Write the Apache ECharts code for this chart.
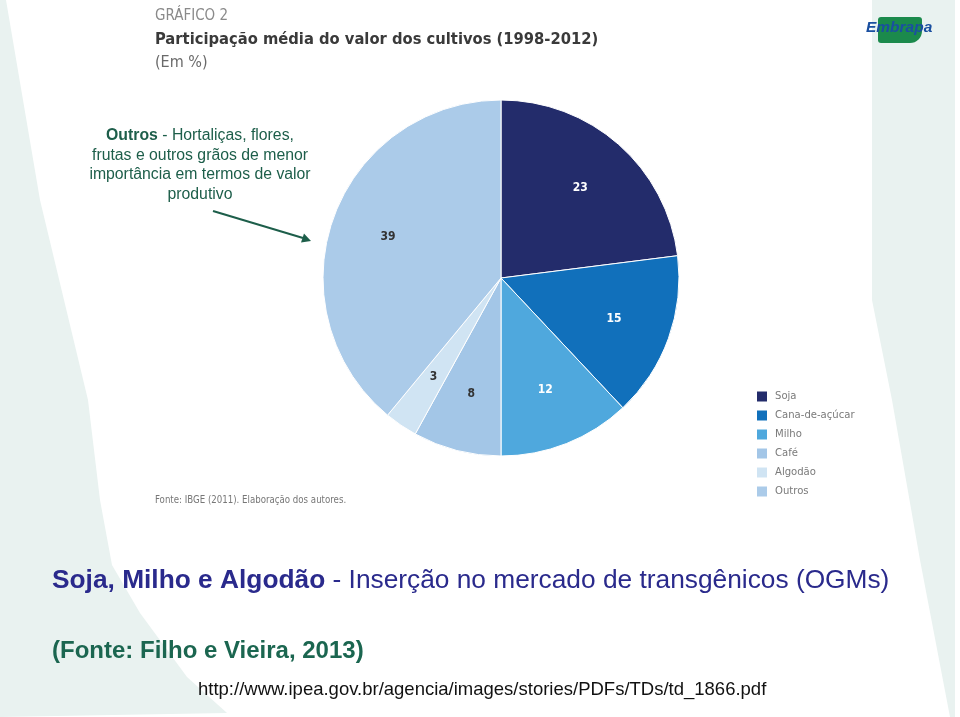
<!DOCTYPE html>
<html><head><meta charset="utf-8">
<script src="https://cdn.jsdelivr.net/npm/echarts@6/dist/echarts.min.js"></script>
<style>html,body{margin:0;padding:0;background:#fff}#c{width:960px;height:717px}</style>
</head><body><div id="c"></div>
<script>
const categories = ['Soja', 'Cana-de-açúcar', 'Milho', 'Café', 'Algodão', 'Outros'];
const values = [23, 15, 12, 8, 3, 39];
const sliceColors = ['#232c6b', '#1170bb', '#4fa8dd', '#a3c6e7', '#d0e4f3', '#abcbe9'];
const labelColors = ['#ffffff', '#ffffff', '#ffffff', '#333333', '#333333', '#333333'];

const NARROW = '"Liberation Sans Narrow","DejaVu Sans Condensed",sans-serif';
const ARIAL = '"Liberation Sans",Arial,sans-serif';
const mint = '#e9f2f0';
const green = '#1d5e4a';
const navy = '#2a2a8c';

const chart = echarts.init(document.getElementById('c'), null, {renderer: 'canvas'});

const pieData = categories.map((n, i) => ({name: n, value: values[i], itemStyle: {color: sliceColors[i]}}));
const labelData = categories.map((n, i) => ({name: n, value: values[i], label: {color: labelColors[i]}}));

chart.setOption({
  backgroundColor: '#ffffff',
  animation: false,
  legend: {
    orient: 'vertical', left: 752, top: 386,
    itemWidth: 10, itemHeight: 10, itemGap: 8, itemStyle: {borderWidth: 0},
    icon: 'rect', selectedMode: false,
    textStyle: {fontSize: 11.2, color: '#7a7a7a', fontFamily: NARROW, padding: [0, 0, 0, 3]},
    data: categories.map((n, i) => ({name: n, itemStyle: {color: sliceColors[i]}}))
  },
  series: [
    {
      type: 'pie', center: [501, 278], radius: [0, 178],
      startAngle: 90, clockwise: true, silent: true,
      label: {show: false}, labelLine: {show: false},
      itemStyle: {borderColor: '#ffffff', borderWidth: 1},
      data: pieData
    },
    {
      type: 'pie', center: [501, 278], radius: [56, 178],
      startAngle: 90, clockwise: true, silent: true, legendHoverLink: false,
      itemStyle: {color: 'rgba(0,0,0,0)'},
      label: {show: true, position: 'inside', formatter: '{c}', fontSize: 12, fontWeight: 'bold', fontFamily: NARROW},
      labelLine: {show: false},
      data: labelData
    }
  ],
  graphic: [
    {type: 'polygon', z: -10, silent: true, shape: {points: [[0,0],[6,0],[40,200],[88,400],[100,500],[112,565],[140,613],[187,677],[227,713],[0,717]]}, style: {fill: mint}},
    {type: 'polygon', z: -10, silent: true, shape: {points: [[872,0],[955,0],[955,717],[950,717],[920,560],[892,400],[880,340],[872,300]]}, style: {fill: mint}},
    {type: 'text', left: 155, top: 9, style: {text: 'GRÁFICO 2', font: '15px ' + NARROW, fill: '#8a8a8a'}},
    {type: 'text', left: 155, top: 32, style: {text: 'Participação média do valor dos cultivos (1998-2012)', font: 'bold 16.4px ' + NARROW, fill: '#3a3a3a'}},
    {type: 'text', left: 155, top: 55, style: {text: '(Em %)', font: '16px ' + NARROW, fill: '#6a6a6a'}},
    {type: 'text', left: 155, top: 495, style: {text: 'Fonte: IBGE (2011). Elaboração dos autores.', font: '9.6px ' + NARROW, fill: '#777777'}},
    {type: 'text', x: 200, y: 126, style: {
      text: '{b|Outros}{n| - Hortaliças, flores,}\n{n|frutas e outros grãos de menor}\n{n|importância em termos de valor}\n{n|produtivo}',
      align: 'center', verticalAlign: 'top', lineHeight: 19.5,
      rich: {b: {font: 'bold 15.8px ' + ARIAL, fill: green, lineHeight: 19.5}, n: {font: '15.8px ' + ARIAL, fill: green, lineHeight: 19.5}}
    }},
    {type: 'line', shape: {x1: 213, y1: 211, x2: 303, y2: 238}, style: {stroke: green, lineWidth: 2}},
    {type: 'polygon', shape: {points: [[311,241],[301,242.5],[304,233.5]]}, style: {fill: green}},
    {type: 'text', left: 52, top: 568, style: {
      text: '{b|Soja, Milho e Algodão}{n| - Inserção no mercado de transgênicos (OGMs)}',
      rich: {b: {font: 'bold 26.3px ' + ARIAL, fill: navy}, n: {font: '26.3px ' + ARIAL, fill: navy}}
    }},
    {type: 'text', left: 52, top: 639, style: {text: '(Fonte: Filho e Vieira, 2013)', font: 'bold 24px ' + ARIAL, fill: '#1b6650'}},
    {type: 'text', left: 198, top: 680, style: {text: 'http://www.ipea.gov.br/agencia/images/stories/PDFs/TDs/td_1866.pdf', font: '18.5px ' + ARIAL, fill: '#111111'}},
    {type: 'rect', shape: {x: 878, y: 17, width: 44, height: 26, r: [3, 3, 12, 3]}, style: {fill: '#1b8a4c'}},
    {type: 'text', left: 866, top: 20, style: {text: 'Embrapa', font: 'italic bold 15.5px ' + ARIAL, fill: '#1a4fa0'}}
  ]
});
</script></body></html>
